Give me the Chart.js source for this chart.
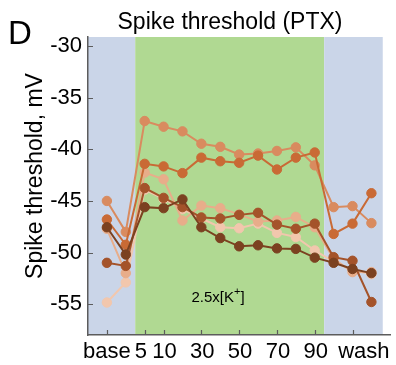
<!DOCTYPE html>
<html>
<head>
<meta charset="utf-8">
<script src="https://cdn.jsdelivr.net/npm/chart.js@4.4.1/dist/chart.umd.min.js"></script>
<style>
  body { margin: 0; background: #fff; }
  #wrap { width: 396px; height: 365px; }
</style>
</head>
<body>
<div id="wrap"><canvas id="thresholdChart" width="396" height="365"></canvas></div>
<script>
// x slots: 2 baseline points, 10 points in 2.5x[K+] (5..90), 3 wash points
const xPos = [0, 1, 2, 3, 4, 5, 6, 7, 8, 9, 10, 11, 12, 13, 14];

// spike threshold per cell, mV
const cellE = [-47.55, -50.2, -45.6, -45.7, -44.85, -47.55, -48.6, -49.4, -49.3, -49.6, -49.65, -50.5, -51.0, -51.6, -52.0];
const cellD = [-51.0, -51.3, -43.75, -44.7, -45.6, -46.6, -46.7, -46.35, -46.15, -47.3, -47.7, -47.2, -50.45, -50.8, -54.8];
const cellB = [-46.8, -49.25, -41.4, -41.65, -42.3, -40.8, -41.15, -41.3, -40.6, -41.95, -40.8, -40.3, -48.2, -47.2, -44.25];
const cellA = [-45.0, -48.0, -37.25, -37.8, -38.25, -39.45, -39.75, -40.5, -40.4, -40.15, -39.8, -41.55, -45.6, -45.5, -47.15];
const cellC = [-47.7, -52.0, -42.25, -42.9, -46.9, -45.45, -45.7, -46.3, -47.0, -46.9, -46.55, -47.55, -50.6, -51.9, -51.9];
const cellF = [-54.85, -52.9, -43.9, -44.8, -45.8, -46.7, -47.55, -47.65, -47.2, -48.1, -48.5, -49.8, -50.9, -51.7, -52.1];

const cells = [cellE, cellD, cellB, cellA, cellC, cellF];
const cellColors = ['#7b4120', '#a4532a', '#c96a35', '#d98b5f', '#e8ad8a', '#f2c7ad'];

// axis ticks
const xTickPos = [0, 2, 3, 5, 7, 9, 11, 13];
const xLabelPos = [0, 1.8, 3.05, 5.05, 7.05, 9.05, 11.05, 13.6];
const xLabels = ['base', '5', '10', '30', '50', '70', '90', 'wash'];
const yTicks = [-55, -50, -45, -40, -35, -30];

// shaded periods: baseline, high K+, wash
const bands = [
  { from: -1, to: 1.5, color: '#cad5e8' },
  { from: 1.5, to: 11.5, color: '#b0d992' },
  { from: 11.5, to: 14.6, color: '#cad5e8' },
];

const font = 'Liberation Sans, Arial, Helvetica, sans-serif';
const axisColor = '#5c5c5c';

const decorPlugin = {
  id: 'decor',
  beforeDraw(chart) {
    const { ctx, chartArea: { top, bottom }, scales: { x } } = chart;
    ctx.save();
    bands.forEach(b => {
      const x0 = x.getPixelForValue(b.from);
      const x1 = x.getPixelForValue(b.to);
      ctx.fillStyle = b.color;
      ctx.fillRect(x0, top, x1 - x0, bottom - top);
    });
    ctx.restore();
  },
  afterDraw(chart) {
    const { ctx, chartArea: { left, top, bottom }, scales: { x, y } } = chart;
    ctx.save();
    // inward tick marks
    ctx.strokeStyle = axisColor;
    ctx.lineWidth = 1.2;
    ctx.beginPath();
    xTickPos.forEach(v => {
      const px = Math.round(x.getPixelForValue(v)) + 0.5;
      ctx.moveTo(px, bottom);
      ctx.lineTo(px, bottom - 5);
    });
    yTicks.forEach(v => {
      const py = Math.round(y.getPixelForValue(v)) + 0.5;
      ctx.moveTo(left, py);
      ctx.lineTo(left + 5, py);
    });
    ctx.stroke();

    ctx.fillStyle = '#000';
    // panel letter
    ctx.font = `33px ${font}`;
    ctx.textAlign = 'left';
    ctx.textBaseline = 'alphabetic';
    ctx.fillText('D', 8, 44);
    // title
    ctx.font = `23px ${font}`;
    ctx.textAlign = 'center';
    ctx.fillText('Spike threshold (PTX)', 230, 28.5);
    // y axis title
    ctx.save();
    ctx.translate(42, 176);
    ctx.rotate(-Math.PI / 2);
    ctx.fillText('Spike threshold, mV', 0, 0);
    ctx.restore();
    // condition label
    ctx.textAlign = 'left';
    ctx.font = `15px ${font}`;
    let tx = 191.5;
    ctx.fillText('2.5x[K', tx, 301.5);
    tx += ctx.measureText('2.5x[K').width;
    ctx.font = `11px ${font}`;
    ctx.fillText('+', tx, 295);
    tx += ctx.measureText('+').width;
    ctx.font = `15px ${font}`;
    ctx.fillText(']', tx, 301.5);
    ctx.restore();
  }
};

const datasets = cells.map((vals, i) => ({
  data: vals.map((v, k) => ({ x: xPos[k], y: v })),
  borderColor: cellColors[i],
  backgroundColor: cellColors[i],
  pointBackgroundColor: cellColors[i],
  pointBorderColor: cellColors[i],
  borderWidth: 2,
  pointRadius: 4.7,
  pointBorderWidth: 1,
  tension: 0,
}));

new Chart(document.getElementById('thresholdChart'), {
  type: 'line',
  data: { datasets },
  options: {
    responsive: false,
    animation: false,
    layout: { padding: { top: 37, right: 3, left: 0, bottom: 0 } },
    plugins: { legend: { display: false }, tooltip: { enabled: false } },
    scales: {
      x: {
        type: 'linear',
        min: -1,
        max: 15,
        afterBuildTicks: s => { s.ticks = xLabelPos.map(v => ({ value: v })); },
        afterFit: s => { s.height = 30; },
        ticks: {
          autoSkip: false,
          maxRotation: 0,
          minRotation: 0,
          padding: 4,
          color: '#000',
          font: { family: font, size: 22 },
          callback: (v, i) => xLabels[i],
        },
        grid: { drawOnChartArea: false, drawTicks: false },
        border: { color: axisColor, width: 1.5 },
      },
      y: {
        min: -58,
        max: -29.1,
        afterBuildTicks: s => { s.ticks = yTicks.map(v => ({ value: v })); },
        afterFit: s => { s.width = 88; },
        ticks: {
          padding: 6,
          color: '#000',
          font: { family: font, size: 22 },
          callback: v => String(v),
        },
        grid: { drawOnChartArea: false, drawTicks: false },
        border: { color: axisColor, width: 1.5 },
      },
    },
  },
  plugins: [decorPlugin],
});
</script>
</body>
</html>
